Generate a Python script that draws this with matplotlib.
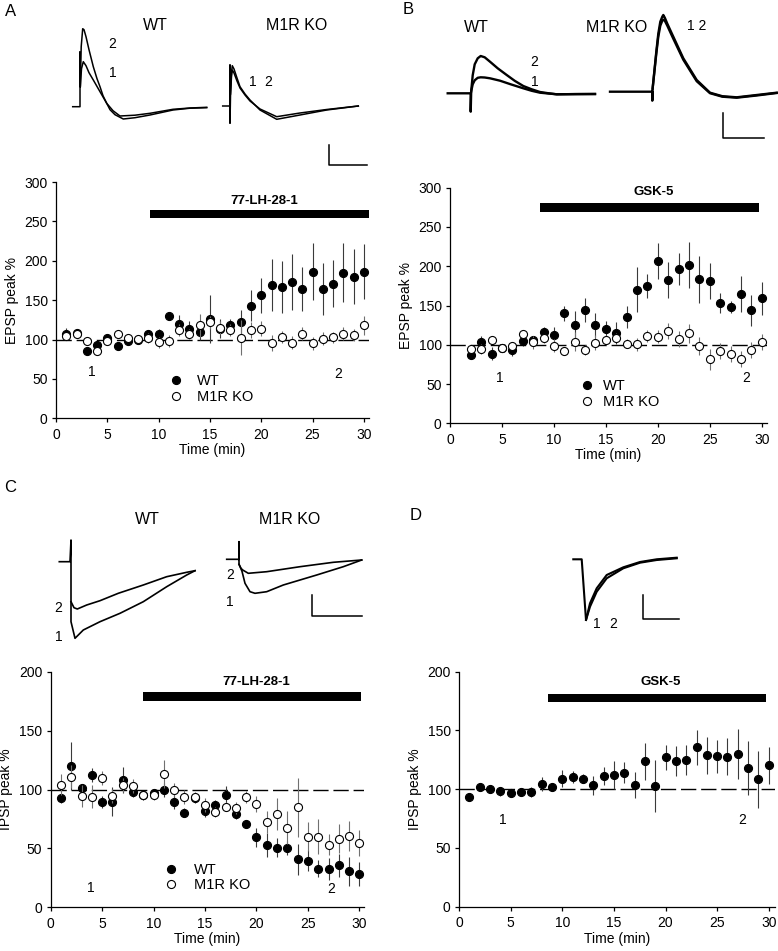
import matplotlib
matplotlib.use('Agg')
import matplotlib.pyplot as plt
from matplotlib.lines import Line2D
import numpy as np

plt.rcParams['font.family'] = ['Liberation Sans', 'DejaVu Sans']

# ---------------- data ----------------
t_A = list(range(1, 31))
A_wt = [107, 108, 85, 93, 102.5, 92, 98, 99, 107, 107, 130, 119.5, 113, 110, 126,
        113.6, 118, 122, 143, 156, 169, 167, 173, 164, 186, 164, 171, 185, 180, 186]
A_wt_err = [8, 6, 4, 5, 4, 4, 4, 4, 4, 6, 5, 12, 10, 10, 30, 12, 8, 15, 20, 22,
            33, 33, 35, 28, 36, 33, 30, 37, 35, 35]
A_ko = [104, 107, 98, 86, 98, 107.5, 101.7, 101, 102, 96.6, 98, 112, 107, 118, 122,
        115, 112, 102.5, 112, 114, 96, 103, 96, 107.6, 95, 101, 103, 107.6, 106, 118]
A_ko_err = [5, 4, 5, 4, 4, 4, 4, 4, 6, 7, 8, 8, 6, 15, 8, 8, 8, 22, 10, 10,
            10, 8, 8, 8, 8, 8, 7, 8, 8, 12]

t_B = list(range(2, 31))
B_wt = [87, 103, 88.7, 96, 93, 104.8, 105.6, 116.7, 112.4, 140, 124.8, 144, 125, 120.5,
        115.4, 135, 170, 175, 207, 182.5, 196.6, 201.7, 183.4, 181, 153, 148.5, 164.7, 144, 159]
B_wt_err = [4, 8, 8, 4, 7, 6, 6, 6, 10, 10, 17.6, 15.5, 15.7, 10, 13.8, 13.8, 28.7, 15.5,
            23, 22.7, 20.8, 29.7, 29.7, 23.3, 12.7, 7.6, 23.3, 19.7, 20.6]
B_ko = [94.6, 94.6, 105.6, 96.3, 98.9, 114, 103, 108, 98.9, 92.5, 104, 93.4, 102.7, 106,
        109, 101.4, 100.6, 111, 110.3, 117.6, 107, 114.6, 98.5, 81.5, 92, 87.9, 81.5, 93, 103.6]
B_ko_err = [5, 6, 5, 5, 5, 5, 8, 6, 8, 5, 12, 6, 10, 6, 6, 6, 8, 8, 8, 10, 10, 12, 12,
            13, 10, 10, 10, 10, 10]

t_C = list(range(1, 31))
C_wt = [92.5, 120, 101, 112.6, 89.4, 89.7, 108, 98, 95, 96.7, 99.6, 89.7, 80.3, 92.5, 82,
        86.8, 95, 79, 70.4, 59.4, 52.9, 50.6, 50.6, 40.7, 39.6, 32.8, 32.5, 35.6, 30.5, 28.3]
C_wt_err = [4, 20, 4, 6, 5, 12, 11, 4, 4, 4, 6, 6, 4, 4, 5, 4, 8, 4, 3, 8, 10, 8, 6, 13,
            9, 7, 9, 10, 12, 10]
C_ko = [104, 111, 94.5, 94, 109.8, 94.5, 103.5, 103, 95, 95, 113, 99.6, 94, 94, 87, 81,
        85.4, 84.3, 93.4, 87.7, 72.4, 79.2, 67.6, 84.9, 60, 60, 53.2, 58.3, 60.5, 54.9]
C_ko_err = [9, 10, 9, 10, 6, 6, 6, 6, 4, 4, 12, 6, 6, 4, 6, 4, 4, 5, 5, 7, 9, 14, 14, 25,
            12, 15, 9, 12, 13, 11]

t_D = list(range(1, 31))
D_wt = [93, 101.6, 99.9, 98.2, 97, 97.6, 97.6, 104.4, 101.6, 109, 110.6, 109, 103.3, 111.2,
        111.8, 114, 103.3, 123.7, 102.7, 127, 124, 124.8, 135.6, 128.8, 128.2, 127.7, 130,
        118, 108.4, 120.3]
D_wt_err = [2, 3, 3, 4, 3, 3, 4, 6, 3, 7, 5, 4, 8, 8, 12, 9, 11, 16, 22, 11, 13, 13, 15,
            16, 14, 16, 21, 23, 24, 16]

drug_A = ("77-LH-28-1", 9.2, 30.5)
drug_B = ("GSK-5", 8.66, 29.74)
drug_C = ("77-LH-28-1", 8.94, 30.2)
drug_D = ("GSK-5", 8.58, 29.77)
series_labels = ["WT", "M1R KO"]

# example traces: dx (px after stimulus), dy (px above baseline)
trA_wt1_x = [-7.3, 0, 0, 0.3, 1.5, 3.3, 6, 9, 13.3, 20, 26.7, 33, 40, 55, 70, 93, 110, 126.7]
trA_wt1_y = [0, 0, 55, 20, 38, 45, 41, 34, 26.7, 15, 3.4, -4, -9.3, -8.5, -6.6, -2.6, -1.3, -0.6]
trA_wt2_x = [0.3, 1.2, 2.7, 4, 6, 9, 13.3, 17, 20, 23, 26.7, 30, 35, 43.3, 55, 70, 93, 110, 126.7]
trA_wt2_y = [20, 60, 78, 77, 70, 57, 40, 28, 20, 11, 3.4, -3, -8, -12.3, -11, -8.3, -3.3, -1.5, -1]
trA_ko1_x = [-7.3, 0, 0, 0, 0.5, 1.5, 2.3, 4, 7, 10, 15, 20, 30, 46.7, 70, 96.7, 128.3]
trA_ko1_y = [0, 0, 41, -17.3, 10, 30, 36, 33, 25, 18, 11, 5, -3, -10.7, -7, -3.5, 0]
trA_ko2_x = [0.5, 1.5, 2.3, 4, 7, 10, 15, 20, 30, 46.7, 70, 96.7, 128.3]
trA_ko2_y = [12, 34, 40.3, 37, 28, 19.3, 12, 6, -4, -13.3, -9, -4, 0]

trB_wt1_x = [-23, 0, 0, 0.5, 2, 4, 7, 10, 14, 19.3, 29.3, 40, 52.6, 61, 69.3, 86, 105, 124.3]
trB_wt1_y = [0, 0, -18.4, 2, 9, 13, 15.5, 16, 15.8, 15, 12.6, 9, 5, 2.5, 0.6, -1, -0.8, -0.7]
trB_wt2_x = [0.5, 2, 4, 7, 10, 14, 19.3, 27, 36, 44, 52.6, 61, 69.3, 78, 86, 105, 124.3]
trB_wt2_y = [2, 18, 29, 35, 37.3, 36, 31.6, 25, 18.3, 12.5, 7.3, 4, 1.3, 0, -1, -0.8, -0.7]
trB_ko1_x = [-42.3, 0, 0, 0.3, 2, 4, 6, 8, 10, 11, 12.5, 15, 21, 31, 44.4, 57.7, 70, 84.4, 104.4, 124.4]
trB_ko1_y = [0, 0, -9, 3, 20, 40, 58, 70, 75, 76.7, 74, 68, 55, 33.4, 11.7, -1, -4.5, -5.6, -3.3, -1]
trB_ko2_x = [0.3, 2, 4, 6, 8, 10, 11, 12.5, 15, 21, 31, 44.4, 57.7, 70, 84.4, 104.4, 124.4]
trB_ko2_y = [3, 19, 38, 55, 66, 71, 72, 71, 66, 53, 32, 10.5, -1.5, -5, -6, -3.8, -1.3]

trC_wt1_x = [-11.7, -1, 0, 0, 4, 12.3, 29, 49, 72.3, 95.7, 115.7, 124]
trC_wt1_y = [0, 0, 21.7, -60, -76.6, -68.3, -60, -51.6, -40, -25, -13.3, -9]
trC_wt2_x = [0, 3, 6.3, 15.7, 29, 47.3, 72.3, 95.7, 115.7, 124]
trC_wt2_y = [-40, -46, -47.3, -43.3, -39, -31.6, -23.3, -15, -10.6, -9]
trC_ko1_x = [-12.3, 0, 0, 0, 3, 6, 11, 16, 27.7, 44.3, 77.7, 104.3, 122.7]
trC_ko1_y = [0, 0, 17.6, -5, -12, -24, -32.4, -34, -32.4, -25.7, -15.7, -7.4, -0.7]
trC_ko2_x = [0, 2, 3.7, 9.3, 27.7, 61, 94.3, 122.7]
trC_ko2_y = [-5, -9, -10.7, -14, -12.4, -7.4, -3, -0.7]

trD_1_x = [-8.4, 0, 4.3, 8.3, 15, 25, 41.6, 58.3, 75, 95]
trD_1_y = [0, 0, -60.7, -47.4, -32.4, -19, -9, -3.4, -0.7, 1]
trD_2_x = [4.3, 8.3, 15, 25, 41.6, 58.3, 75, 95]
trD_2_y = [-60.7, -44, -29, -15.7, -8, -2.7, 0, 1.6]

# ---------------- figure ----------------
W, H = 778, 951
fig = plt.figure(figsize=(W / 100, H / 100), dpi=100)


def rect(l, r, b, t):
    return [l / W, 1 - b / H, (r - l) / W, (b - t) / H]


FS = 10


def style(ax, xmax, ymax, ystep, ylabel):
    ax.set_xlim(0, xmax)
    ax.set_ylim(0, ymax)
    ax.set_xticks(range(0, 31, 5))
    ax.set_yticks(np.arange(0, ymax + 1, ystep))
    for s in ['top', 'right']:
        ax.spines[s].set_visible(False)
    for s in ['left', 'bottom']:
        ax.spines[s].set_linewidth(0.9)
    ax.tick_params(direction='out', length=3, width=0.9, labelsize=FS)
    ax.tick_params(axis='x', pad=4)
    ax.tick_params(axis='y', pad=3)
    ax.set_xlabel('Time (min)', fontsize=FS, labelpad=1)
    ax.set_ylabel(ylabel, fontsize=FS, labelpad=4)
    ax.axhline(100, color='black', lw=1.0, dashes=(11, 3.5), zorder=1)


def series(ax, t, y, e, filled):
    ax.errorbar(t, y, yerr=e, fmt='none', ecolor='#3a3a3a' if filled else '#707070',
                elinewidth=0.8, capsize=0, zorder=3 if filled else 4)
    ax.plot(t, y, 'o', ms=5.8, mfc='black' if filled else 'white', mec='black',
            mew=0.8, ls='none', zorder=3.5 if filled else 4.5)


def drug(ax, d, y0, y1, ytext):
    name, s, e = d
    ax.broken_barh([(s, e - s)], (y0, y1 - y0), facecolors='black', zorder=2)
    ax.text((s + e) / 2 + 0.4, ytext, name, ha='center', va='center',
            fontsize=9.5, fontweight='bold')


def legend(ax, xf, yf, pad):
    h = [Line2D([], [], marker='o', ls='none', ms=5.8, mfc='black', mec='black', mew=0.8),
         Line2D([], [], marker='o', ls='none', ms=5.8, mfc='white', mec='black', mew=0.8)]
    ax.legend(h, series_labels, loc='center left', bbox_to_anchor=(xf, yf), frameon=False,
              handlelength=1.0, handletextpad=pad, labelspacing=0.12, borderpad=0,
              borderaxespad=0, fontsize=10.5)


def marks(ax, p1, p2):
    ax.text(p1[0], p1[1], '1', ha='center', va='center', fontsize=10)
    ax.text(p2[0], p2[1], '2', ha='center', va='center', fontsize=10)


# Panel A
axA = fig.add_axes(rect(56, 369, 418.3, 182))
style(axA, 30.5, 300, 50, 'EPSP peak %')
series(axA, t_A, A_wt, A_wt_err, True)
series(axA, t_A, A_ko, A_ko_err, False)
drug(axA, drug_A, 254, 264, 276)
legend(axA, 0.36, 0.1235, 0.95)
marks(axA, (3.5, 58.5), (27.5, 56))

# Panel B
axB = fig.add_axes(rect(450, 766.9, 423.3, 187.7))
style(axB, 30.5, 300, 50, 'EPSP peak %')
series(axB, t_B, B_wt, B_wt_err, True)
series(axB, t_B, B_ko, B_ko_err, False)
drug(axB, drug_B, 269.4, 280, 294)
legend(axB, 0.41, 0.125, 0.6)
marks(axB, (4.8, 58), (28.5, 58))

# Panel C
axC = fig.add_axes(rect(50.7, 363.5, 907.3, 671.7))
style(axC, 30.4, 200, 50, 'IPSP peak %')
series(axC, t_C, C_wt, C_wt_err, True)
series(axC, t_C, C_ko, C_ko_err, False)
drug(axC, drug_C, 175.4, 182.7, 191)
legend(axC, 0.362, 0.126, 1.05)
marks(axC, (3.9, 16), (27.3, 15.3))

# Panel D
axD = fig.add_axes(rect(459, 775, 906.7, 671.7))
style(axD, 30.6, 200, 50, 'IPSP peak %')
series(axD, t_D, D_wt, D_wt_err, True)
drug(axD, drug_D, 174.2, 181, 191.5)
marks(axD, (4.2, 73.8), (27.4, 73.8))

# ---------------- traces overlay (pixel space) ----------------
ov = fig.add_axes([0, 0, 1, 1], zorder=-1)
ov.set_xlim(0, W)
ov.set_ylim(H, 0)
ov.axis('off')


def trace(x0, y0, xs, ys, lw):
    ov.plot(x0 + np.asarray(xs), y0 - np.asarray(ys), color='black', lw=lw,
            solid_joinstyle='round')


def sbar(x, ytop, ybot, xr):
    ov.plot([x, x, xr], [ytop, ybot, ybot], color='black', lw=1.1)


def tx(x, y, s, fs, **kw):
    ov.text(x, y, s, ha='center', va='center', fontsize=fs, **kw)


# A traces
trace(80, 106.7, trA_wt1_x, trA_wt1_y, 1.1)
trace(80, 106.7, trA_wt2_x, trA_wt2_y, 1.1)
trace(230, 106, trA_ko1_x, trA_ko1_y, 1.1)
trace(230, 106, trA_ko2_x, trA_ko2_y, 1.1)
sbar(329.3, 145, 165, 366.7)
tx(11, 11.5, 'A', 12)
tx(155.5, 25, 'WT', 11.5)
tx(296.5, 25, 'M1R KO', 11.5)
tx(111.7, 44.3, '2', 10)
tx(112.7, 72.7, '1', 10)
tx(252.7, 81.7, '1', 10)
tx(267.7, 81.7, '2', 10)

# B traces
trace(470.7, 93.3, trB_wt1_x, trB_wt1_y, 1.7)
trace(470.7, 93.3, trB_wt2_x, trB_wt2_y, 1.7)
trace(652.3, 91.7, trB_ko1_x, trB_ko1_y, 1.7)
trace(652.3, 91.7, trB_ko2_x, trB_ko2_y, 1.7)
sbar(722.7, 113.3, 138.3, 764)
tx(408.5, 10, 'B', 12)
tx(476.3, 27, 'WT', 11.5)
tx(617, 27, 'M1R KO', 11.5)
tx(534, 61.7, '2', 10)
tx(534.7, 81.7, '1', 10)
tx(696.7, 26, '1 2', 10)

# C traces
trace(71, 561.7, trC_wt1_x, trC_wt1_y, 1.2)
trace(71, 561.7, trC_wt2_x, trC_wt2_y, 1.2)
trace(239, 559.3, trC_ko1_x, trC_ko1_y, 1.2)
trace(239, 559.3, trC_ko2_x, trC_ko2_y, 1.2)
sbar(312.3, 595, 616, 361.7)
tx(10, 487, 'C', 12)
tx(147, 520, 'WT', 11.5)
tx(290, 520, 'M1R KO', 11.5)
tx(58.3, 608.3, '2', 10)
tx(59.3, 636.7, '1', 10)
tx(230, 575, '2', 10)
tx(230, 601.7, '1', 10)

# D traces
trace(581.7, 559.3, trD_1_x, trD_1_y, 1.5)
trace(581.7, 559.3, trD_2_x, trD_2_y, 1.5)
sbar(643.3, 595, 619.3, 679.3)
tx(416, 515, 'D', 12)
tx(596.7, 624, '1', 10)
tx(612.7, 624, '2', 10)

fig.savefig('out.png', dpi=100)
